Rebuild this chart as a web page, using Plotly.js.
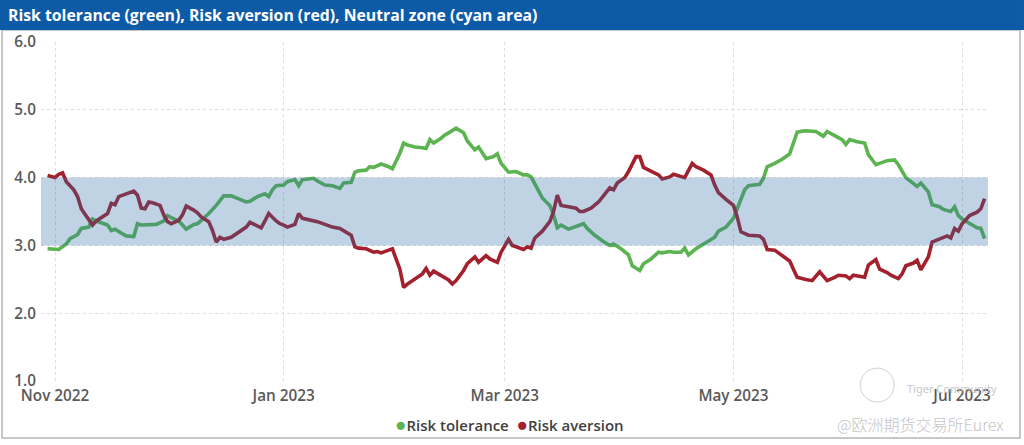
<!DOCTYPE html>
<html>
<head>
<meta charset="utf-8">
<script src="https://cdn.plot.ly/plotly-3.0.1.min.js"></script>
<style>
  html, body { margin: 0; padding: 0; background: #ffffff; }
  #chart { width: 1024px; height: 445px; }
</style>
</head>
<body>
<div id="chart"></div>
<script>
const chartTitle = 'Risk tolerance (green), Risk aversion (red), Neutral zone (cyan area)';
const seriesNames = ['Risk tolerance', 'Risk aversion'];
const watermarkTop = 'Tiger Community';
const watermarkBottom = '@欧洲期货交易所Eurex';

const neutralLow = 3.0;
const neutralHigh = 4.0;

const yTickValues = [1, 2, 3, 4, 5, 6];
const yTickLabels = ['1.0', '2.0', '3.0', '4.0', '5.0', '6.0'];
const xTickValues = ['2022-11-01', '2023-01-01', '2023-03-01', '2023-05-01', '2023-07-01'];
const xTickLabels = ['Nov 2022', 'Jan 2023', 'Mar 2023', 'May 2023', 'Jul 2023'];
const xRange = ['2022-10-28 06:00', '2023-07-07 22:00'];

const toleranceDates = [
'2022-10-30','2022-10-31','2022-11-02','2022-11-04','2022-11-05','2022-11-07','2022-11-08','2022-11-10','2022-11-11','2022-11-12',
'2022-11-14','2022-11-15','2022-11-16','2022-11-17','2022-11-19','2022-11-20','2022-11-22','2022-11-23','2022-11-24','2022-11-26',
'2022-11-28','2022-11-30','2022-12-01','2022-12-02','2022-12-04','2022-12-05','2022-12-06','2022-12-08','2022-12-09','2022-12-10',
'2022-12-12','2022-12-14','2022-12-15','2022-12-16','2022-12-18','2022-12-20','2022-12-22','2022-12-23','2022-12-25','2022-12-27',
'2022-12-28','2022-12-29','2022-12-30','2023-01-01','2023-01-02','2023-01-04','2023-01-05','2023-01-06','2023-01-09','2023-01-10',
'2023-01-12','2023-01-14','2023-01-16','2023-01-17','2023-01-19','2023-01-20','2023-01-21','2023-01-23','2023-01-24','2023-01-25',
'2023-01-27','2023-01-29','2023-01-30','2023-02-01','2023-02-02','2023-02-03','2023-02-05','2023-02-07','2023-02-08','2023-02-09',
'2023-02-10','2023-02-12','2023-02-13','2023-02-14','2023-02-16','2023-02-18','2023-02-19','2023-02-21','2023-02-22','2023-02-24',
'2023-02-26','2023-02-27','2023-02-28','2023-03-02','2023-03-04','2023-03-06','2023-03-07','2023-03-08','2023-03-10','2023-03-11',
'2023-03-13','2023-03-14','2023-03-15','2023-03-16','2023-03-18','2023-03-19','2023-03-20','2023-03-22','2023-03-23','2023-03-25',
'2023-03-27','2023-03-29','2023-03-30','2023-04-01','2023-04-03','2023-04-04','2023-04-06','2023-04-07','2023-04-09','2023-04-11',
'2023-04-12','2023-04-14','2023-04-15','2023-04-17','2023-04-18','2023-04-19','2023-04-21','2023-04-23','2023-04-24','2023-04-26',
'2023-04-27','2023-04-29','2023-05-01','2023-05-03','2023-05-04','2023-05-05','2023-05-08','2023-05-09','2023-05-10','2023-05-12',
'2023-05-14','2023-05-16','2023-05-17','2023-05-18','2023-05-20','2023-05-23','2023-05-25','2023-05-26','2023-05-28','2023-05-30',
'2023-05-31','2023-06-01','2023-06-03','2023-06-05','2023-06-06','2023-06-08','2023-06-09','2023-06-11','2023-06-13','2023-06-14',
'2023-06-16','2023-06-18','2023-06-19','2023-06-20','2023-06-22','2023-06-23','2023-06-25','2023-06-26','2023-06-28','2023-06-29',
'2023-06-30','2023-07-01','2023-07-03','2023-07-05','2023-07-06','2023-07-07'
];
const toleranceValues = [
2.95,2.95,2.94,3.02,3.10,3.16,3.25,3.27,3.39,3.36,
3.32,3.30,3.22,3.24,3.17,3.14,3.13,3.32,3.30,3.30,
3.31,3.36,3.44,3.41,3.36,3.30,3.24,3.31,3.32,3.37,
3.47,3.59,3.67,3.73,3.73,3.69,3.64,3.65,3.72,3.76,
3.72,3.82,3.88,3.89,3.94,3.97,3.88,3.97,3.99,3.95,
3.89,3.88,3.84,3.92,3.93,4.08,4.10,4.11,4.16,4.15,
4.20,4.16,4.13,4.36,4.51,4.48,4.45,4.44,4.43,4.56,
4.51,4.58,4.63,4.66,4.73,4.66,4.54,4.41,4.45,4.28,
4.31,4.35,4.21,4.08,4.09,4.04,4.04,4.01,3.82,3.70,
3.59,3.45,3.26,3.30,3.24,3.26,3.28,3.32,3.25,3.15,
3.07,3.00,3.02,2.95,2.86,2.70,2.63,2.73,2.80,2.90,
2.89,2.91,2.90,2.90,2.96,2.86,2.95,3.02,3.06,3.12,
3.21,3.27,3.40,3.67,3.82,3.88,3.90,3.99,4.16,4.21,
4.27,4.35,4.51,4.67,4.69,4.68,4.61,4.68,4.62,4.56,
4.49,4.56,4.53,4.51,4.34,4.19,4.21,4.25,4.26,4.19,
4.00,3.92,3.87,3.92,3.79,3.60,3.57,3.53,3.50,3.57,
3.44,3.39,3.32,3.26,3.25,3.10
];

const aversionDates = [
'2022-10-30','2022-11-01','2022-11-02','2022-11-03','2022-11-04','2022-11-06','2022-11-07','2022-11-08','2022-11-09','2022-11-10',
'2022-11-11','2022-11-12','2022-11-14','2022-11-15','2022-11-16','2022-11-17','2022-11-18','2022-11-20','2022-11-22','2022-11-23',
'2022-11-24','2022-11-25','2022-11-26','2022-11-27','2022-11-29','2022-11-30','2022-12-01','2022-12-02','2022-12-04','2022-12-05',
'2022-12-06','2022-12-08','2022-12-09','2022-12-10','2022-12-12','2022-12-13','2022-12-14','2022-12-15','2022-12-16','2022-12-18',
'2022-12-20','2022-12-22','2022-12-23','2022-12-24','2022-12-26','2022-12-27','2022-12-28','2022-12-30','2022-12-31','2023-01-01',
'2023-01-02','2023-01-04','2023-01-05','2023-01-06','2023-01-09','2023-01-10','2023-01-12','2023-01-14','2023-01-16','2023-01-18',
'2023-01-19','2023-01-20','2023-01-21','2023-01-23','2023-01-25','2023-01-26','2023-01-27','2023-01-29','2023-01-30','2023-02-01',
'2023-02-02','2023-02-03','2023-02-05','2023-02-07','2023-02-08','2023-02-09','2023-02-10','2023-02-12','2023-02-14','2023-02-15',
'2023-02-16','2023-02-18','2023-02-19','2023-02-21','2023-02-22','2023-02-24','2023-02-25','2023-02-27','2023-02-28','2023-03-02',
'2023-03-03','2023-03-04','2023-03-06','2023-03-07','2023-03-08','2023-03-09','2023-03-11','2023-03-13','2023-03-14','2023-03-15',
'2023-03-16','2023-03-18','2023-03-20','2023-03-21','2023-03-22','2023-03-24','2023-03-26','2023-03-28','2023-03-29','2023-03-30',
'2023-03-31','2023-04-02','2023-04-03','2023-04-05','2023-04-06','2023-04-07','2023-04-09','2023-04-11','2023-04-12','2023-04-14',
'2023-04-15','2023-04-16','2023-04-18','2023-04-20','2023-04-21','2023-04-23','2023-04-25','2023-04-26','2023-04-27','2023-04-29',
'2023-05-01','2023-05-02','2023-05-03','2023-05-05','2023-05-08','2023-05-09','2023-05-10','2023-05-12','2023-05-14','2023-05-16',
'2023-05-17','2023-05-18','2023-05-20','2023-05-22','2023-05-24','2023-05-26','2023-05-28','2023-05-29','2023-05-31','2023-06-01',
'2023-06-02','2023-06-05','2023-06-06','2023-06-08','2023-06-09','2023-06-11','2023-06-12','2023-06-14','2023-06-15','2023-06-16',
'2023-06-18','2023-06-19','2023-06-20','2023-06-22','2023-06-23','2023-06-25','2023-06-27','2023-06-28','2023-06-29','2023-06-30',
'2023-07-01','2023-07-03','2023-07-05','2023-07-06','2023-07-07'
];
const aversionValues = [
4.03,4.00,4.05,4.07,3.94,3.82,3.72,3.54,3.46,3.37,
3.30,3.36,3.43,3.47,3.62,3.60,3.72,3.76,3.80,3.74,
3.55,3.54,3.64,3.63,3.59,3.45,3.35,3.32,3.37,3.45,
3.58,3.52,3.48,3.42,3.35,3.22,3.05,3.12,3.09,3.12,
3.20,3.27,3.34,3.31,3.26,3.36,3.47,3.36,3.32,3.30,
3.27,3.31,3.47,3.40,3.37,3.35,3.31,3.27,3.25,3.19,
3.15,2.98,2.96,2.95,2.90,2.91,2.89,2.93,2.95,2.65,
2.38,2.43,2.50,2.58,2.66,2.56,2.62,2.56,2.49,2.43,
2.48,2.63,2.73,2.83,2.75,2.85,2.80,2.75,2.90,3.09,
3.00,2.98,2.94,2.98,2.96,3.11,3.21,3.35,3.50,3.74,
3.59,3.57,3.55,3.50,3.50,3.55,3.64,3.78,3.85,3.82,
3.92,4.00,4.09,4.31,4.31,4.15,4.09,4.04,3.98,4.01,
4.05,4.03,4.00,4.21,4.16,4.11,4.04,3.89,3.78,3.68,
3.59,3.42,3.20,3.15,3.14,3.09,2.94,2.93,2.85,2.77,
2.65,2.53,2.50,2.48,2.61,2.48,2.53,2.56,2.55,2.51,
2.56,2.53,2.71,2.79,2.65,2.60,2.56,2.51,2.58,2.70,
2.74,2.78,2.64,2.83,3.05,3.09,3.14,3.11,3.25,3.21,
3.32,3.44,3.49,3.54,3.69
];

const greenColor = '#5bb450';
const redColor = '#a3202d';
const bandColor = '#2e6da4';
const headerColor = '#0d5aa7';
const textFont = '"Open Sans", "Noto Sans", sans-serif';

const traces = [
  { x: toleranceDates, y: toleranceValues, type: 'scatter', mode: 'lines', name: seriesNames[0],
    line: { color: greenColor, width: 3.6, shape: 'linear' }, showlegend: false },
  { x: aversionDates, y: aversionValues, type: 'scatter', mode: 'lines', name: seriesNames[1],
    line: { color: redColor, width: 3.6, shape: 'linear' }, showlegend: false }
];

const legendText =
  '<span style="color:' + greenColor + ';font-size:19px">●</span>' + seriesNames[0] +
  '  <span style="color:' + redColor + ';font-size:19px">●</span>' + seriesNames[1];

const layout = {
  width: 1024, height: 445,
  margin: { l: 41, r: 36, t: 42, b: 64 },
  paper_bgcolor: '#ffffff', plot_bgcolor: '#ffffff',
  font: { family: textFont, color: '#595959' },
  showlegend: false,
  title: {
    text: chartTitle,
    font: { family: textFont, size: 15.8, color: '#ffffff', weight: 700 },
    xref: 'container', yref: 'container', x: 0.0078, xanchor: 'left', y: 0.966, yanchor: 'middle'
  },
  xaxis: {
    type: 'date', range: xRange,
    tickvals: xTickValues, ticktext: xTickLabels,
    showgrid: true, gridcolor: '#dcdcdc', griddash: 'dot', gridwidth: 1,
    zeroline: false, showline: false, ticks: '', ticklabelstandoff: 4,
    tickfont: { family: textFont, size: 15.3, color: '#595959', weight: 600 }
  },
  yaxis: {
    range: [1, 6], tickvals: yTickValues, ticktext: yTickLabels,
    showgrid: true, gridcolor: '#dcdcdc', griddash: 'dot', gridwidth: 1,
    zeroline: false, showline: false, ticks: '', ticklabelstandoff: 4,
    tickfont: { family: textFont, size: 15.3, color: '#595959', weight: 600 }
  },
  shapes: [
    { type: 'rect', xref: 'paper', yref: 'paper', x0: -0.0412, x1: 1.0338, y0: -0.168, y1: 1.0354,
      line: { color: '#b5b5b5', width: 1.5 }, fillcolor: 'rgba(0,0,0,0)', layer: 'below' },
    { type: 'rect', xref: 'paper', yref: 'paper', x0: -0.0433, x1: 1.038, y0: 1.0354, y1: 1.124,
      line: { width: 0 }, fillcolor: headerColor, layer: 'below' },
    { type: 'rect', xref: 'paper', yref: 'y', x0: 0, x1: 1, y0: neutralLow, y1: neutralHigh,
      line: { width: 0 }, fillcolor: bandColor, opacity: 0.3, layer: 'above' },
    { type: 'circle', xref: 'paper', yref: 'paper', x0: 0.865, x1: 0.901, y0: -0.062, y1: 0.038,
      line: { color: '#d0d0d0', width: 1 }, fillcolor: 'rgba(0,0,0,0)', layer: 'above' }
  ],
  annotations: [
    { text: legendText, xref: 'paper', yref: 'paper', x: 0.495, y: -0.127, xanchor: 'center', yanchor: 'middle',
      showarrow: false, font: { family: textFont, size: 15, color: '#404040', weight: 600 } },
    { text: watermarkTop, xref: 'paper', yref: 'paper', x: 0.912, y: -0.021, xanchor: 'left', yanchor: 'middle',
      showarrow: false, font: { family: '"Noto Sans", sans-serif', size: 11, color: '#c8c8c8' } },
    { text: watermarkBottom, xref: 'paper', yref: 'paper', x: 1.019, y: -0.127, xanchor: 'right', yanchor: 'middle',
      showarrow: false, font: { family: '"Noto Sans CJK SC", "Noto Sans", sans-serif', size: 16, color: '#c4c4c4', weight: 300 } }
  ]
};

Plotly.newPlot('chart', traces, layout, { displayModeBar: false, staticPlot: true });
</script>
</body>
</html>
